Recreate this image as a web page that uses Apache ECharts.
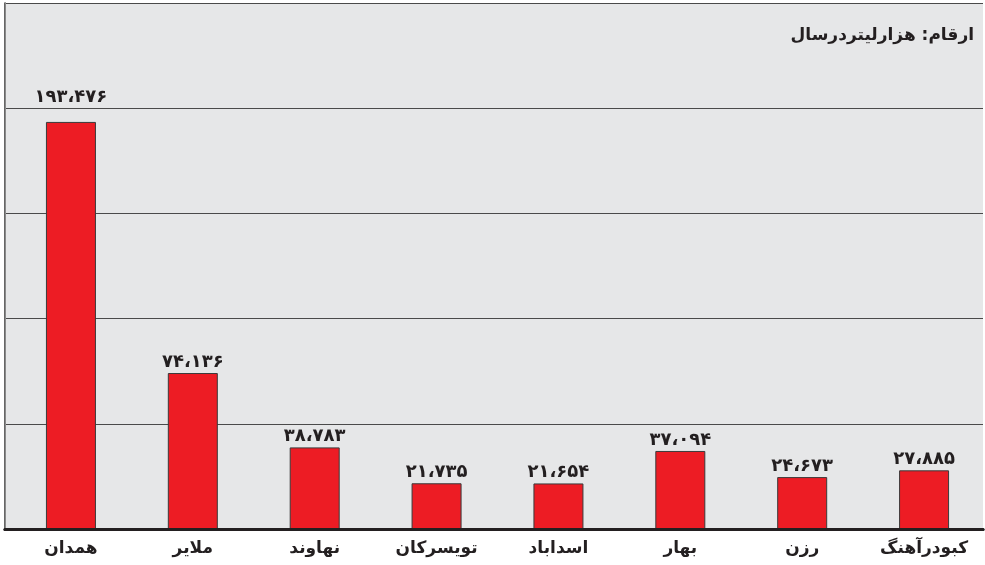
<!DOCTYPE html>
<html>
<head>
<meta charset="utf-8">
<script src="https://cdn.jsdelivr.net/npm/echarts@6/dist/echarts.min.js"></script>
<style>
  html, body { margin: 0; padding: 0; background: #fff; }
  #chart { width: 985px; height: 565px; }
</style>
</head>
<body>
<div id="chart"></div>
<script>
// شهرستان‌ها و مصرف (هزار لیتر در سال)
const categories = ['همدان', 'ملایر', 'نهاوند', 'تویسرکان', 'اسداباد', 'بهار', 'رزن', 'کبودرآهنگ']
const values = [193476, 74136, 38783, 21735, 21654, 37094, 24673, 27885]
const unitLabel = 'ارقام: هزارلیتردرسال'

const yMax = 250000
const yStep = 50000

const font = 'DejaVu Sans'
const ink = '#231f20'

// اعداد فارسی با جداکننده
function fa (n) {
  return n.toLocaleString('en-US')
    .replace(/,/g, '،')
    .replace(/\d/g, d => '۰۱۲۳۴۵۶۷۸۹'[d])
}

let myChart = echarts.init(document.getElementById('chart'))

let options = {
  animation: false,
  title: {
    text: unitLabel,
    right: 6,
    top: 22,
    textStyle: { fontFamily: font, fontSize: 17, fontWeight: 'bold', color: ink }
  },
  grid: [
    { left: 5, right: 2, top: 3, bottom: 36, show: true, backgroundColor: '#e6e7e8', borderWidth: 0 },
    { left: 10, right: -4, top: 3, bottom: 36 }
  ],
  xAxis: [
    {
      gridIndex: 0, type: 'value', position: 'top', min: 0, max: 1, z: 3,
      axisLine: { show: true, lineStyle: { color: '#2b2b2b', width: 3 } },
      axisTick: { show: false }, axisLabel: { show: false }, splitLine: { show: false }
    },
    {
      gridIndex: 0, type: 'value', position: 'bottom', min: 0, max: 1, z: 3,
      axisLine: { show: true, lineStyle: { color: ink, width: 3 } },
      axisTick: { show: false }, axisLabel: { show: false }, splitLine: { show: false }
    },
    {
      gridIndex: 1, type: 'category', data: categories,
      axisLine: { show: false }, axisTick: { show: false },
      axisLabel: { margin: 11, fontFamily: font, fontSize: 17, fontWeight: 'bold', color: ink }
    }
  ],
  yAxis: [
    {
      gridIndex: 0, type: 'value', min: 0, max: yMax, interval: yStep,
      axisLine: { show: true, lineStyle: { color: '#333', width: 1.5 } },
      axisTick: { show: false }, axisLabel: { show: false },
      splitLine: { show: true, lineStyle: { color: '#4a4a4a', width: 1 } }
    },
    {
      gridIndex: 0, type: 'value', position: 'right', min: 0, max: yMax,
      axisLine: { show: true, lineStyle: { color: '#8a8a8a', width: 1 } },
      axisTick: { show: false }, axisLabel: { show: false }, splitLine: { show: false }
    },
    {
      gridIndex: 1, type: 'value', min: 0, max: yMax, show: false
    }
  ],
  series: [
    {
      type: 'bar',
      xAxisIndex: 2,
      yAxisIndex: 2,
      barWidth: 50,
      itemStyle: { color: '#ed1c24', borderColor: '#3a3a3a', borderWidth: 1 },
      label: {
        show: true,
        position: 'top',
        distance: 2,
        fontFamily: font,
        fontSize: 18,
        fontWeight: 'bold',
        color: ink,
        formatter: p => fa(p.value)
      },
      data: values.map((v, i) => i === 0 ? { value: v, label: { offset: [0, -14] } } : v)
    }
  ]
}

myChart.setOption(options)
</script>
</body>
</html>
